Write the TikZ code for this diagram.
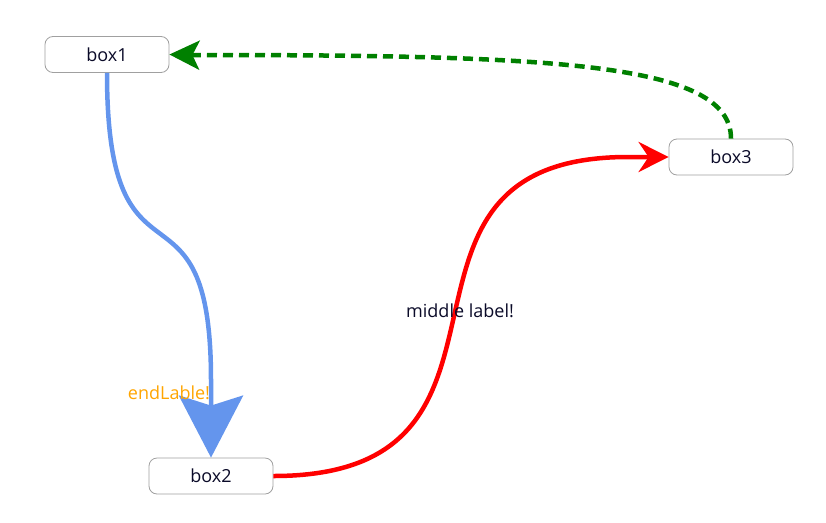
\documentclass[tikz,border=0pt]{standalone}
\usepackage{fontspec}
\setmainfont{Open Sans}
\usetikzlibrary{arrows.meta}
\definecolor{boxgray}{RGB}{160,160,160}
\definecolor{cblue}{RGB}{100,149,237}
\definecolor{corange}{RGB}{255,165,0}
\definecolor{cgreen}{RGB}{0,128,0}
\definecolor{ctext}{RGB}{10,10,40}
\tikzset{
  box/.style={draw=boxgray, line width=0.8pt, rounded corners=8pt, minimum width=124pt, minimum height=36pt, inner sep=0pt, fill=white, text=ctext, font=\fontsize{18pt}{21pt}\selectfont},
  conn/.style={line width=4.5pt},
  lbl/.style={font=\fontsize{18pt}{21pt}\selectfont, inner sep=0pt}
}
\begin{document}
\begin{tikzpicture}[x=1pt,y=-1pt]
\useasboundingbox (0,0) rectangle (826,522);
\node[box] (b1) at (107,54.5) {box1};
\node[box] (b2) at (211,476) {box2};
\node[box] (b3) at (731,157) {box3};
\coordinate (bq) at (211,380);
\coordinate (rq) at (628,157);
\coordinate (gq) at (192,55);
% blue
\draw[conn, cblue, -{Stealth[length=62pt, width=64pt, inset=10pt]}] (b1.south) .. controls (107,310) and (211,160) .. (bq) -- (b2.north);
\node[lbl, text=corange] (el) at (169,393) {endLable!};
% red
\draw[conn, red, -{Stealth[length=30pt, width=30pt, inset=10pt]}] (b2.east) .. controls (560,476) and (350,157) .. (rq) -- (b3.west);
\node[lbl, text=ctext] (mid) at (460,311) {middle label!};
% green
\draw[conn, cgreen, dash pattern=on 10pt off 6pt, -{Stealth[length=30pt, width=29pt, inset=7pt]}] (b3.north) .. controls (731,62) and (550,55) .. (gq) -- (b1.east);
\end{tikzpicture}
\end{document}
